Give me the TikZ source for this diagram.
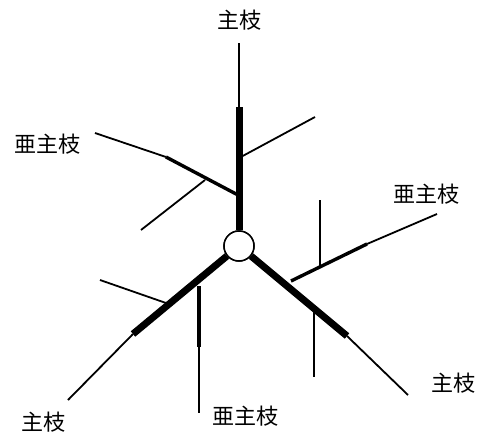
\documentclass[tikz,border=0pt]{standalone}
\usepackage{fontspec}
\newfontfamily\jp{Noto Sans CJK JP}
\begin{document}
\begin{tikzpicture}[x=1pt,y=-1pt,
  thin line/.style={line width=1.8pt},
  mid line/.style={line width=3.4pt},
  sub line/.style={line width=4.5pt},
  main line/.style={line width=7pt},
  lab/.style={font=\jp\fontsize{22}{24}\selectfont, inner sep=0pt}]
\useasboundingbox (0,0) rectangle (477,434);
% centre
\node[circle, draw, line width=1.5pt, fill=white, minimum size=30pt, inner sep=0pt] (c) at (239,246) {};
% coordinates
\coordinate (t1) at (239,107);
\coordinate (t2) at (239,43);
\coordinate (tr) at (239,158);
\coordinate (tre) at (315,117);
\coordinate (tl) at (238,195);
\coordinate (tlm) at (166,157);
\coordinate (tle) at (95,133);
\coordinate (tlb) at (205,180);
\coordinate (tlbe) at (141,230);
\coordinate (r1) at (347,336);
\coordinate (r2) at (408,395);
\coordinate (rs) at (291,281);
\coordinate (rsm) at (367,244);
\coordinate (rse) at (437,214);
\coordinate (rv) at (320,266);
\coordinate (rve) at (320,200);
\coordinate (rd) at (314,307);
\coordinate (rde) at (314,377);
\coordinate (l1) at (133,334);
\coordinate (l2) at (68,400);
\coordinate (ls) at (166,303);
\coordinate (lse) at (100,280);
\coordinate (lv) at (199,286);
\coordinate (lvm) at (199,347);
\coordinate (lve) at (199,413);
% top main branch
\draw[main line] (c) -- (t1);
\draw[thin line] (t1) -- (t2);
\draw[thin line] (tr) -- (tre);
\draw[mid line] (tl) -- (tlm);
\draw[thin line] (tlm) -- (tle);
\draw[thin line] (tlb) -- (tlbe);
% lower right main branch
\draw[main line] (c) -- (r1);
\draw[thin line] (r1) -- (r2);
\draw[mid line] (rs) -- (rsm);
\draw[thin line] (rsm) -- (rse);
\draw[thin line] (rv) -- (rve);
\draw[thin line] (rd) -- (rde);
% lower left main branch
\draw[main line] (c) -- (l1);
\draw[thin line] (l1) -- (l2);
\draw[thin line] (ls) -- (lse);
\draw[sub line] (lv) -- (lvm);
\draw[thin line] (lvm) -- (lve);
% redraw centre on top
\node[circle, draw, line width=1.5pt, fill=white, minimum size=30pt, inner sep=0pt] at (c) {};
% labels
\node[lab] (L1) at (239,20) {主枝};
\node[lab] (L2) at (47,144) {亜主枝};
\node[lab] (L3) at (426,194) {亜主枝};
\node[lab] (L4) at (453,383) {主枝};
\node[lab] (L5) at (43,422) {主枝};
\node[lab] (L6) at (245,416) {亜主枝};
\end{tikzpicture}
\end{document}
